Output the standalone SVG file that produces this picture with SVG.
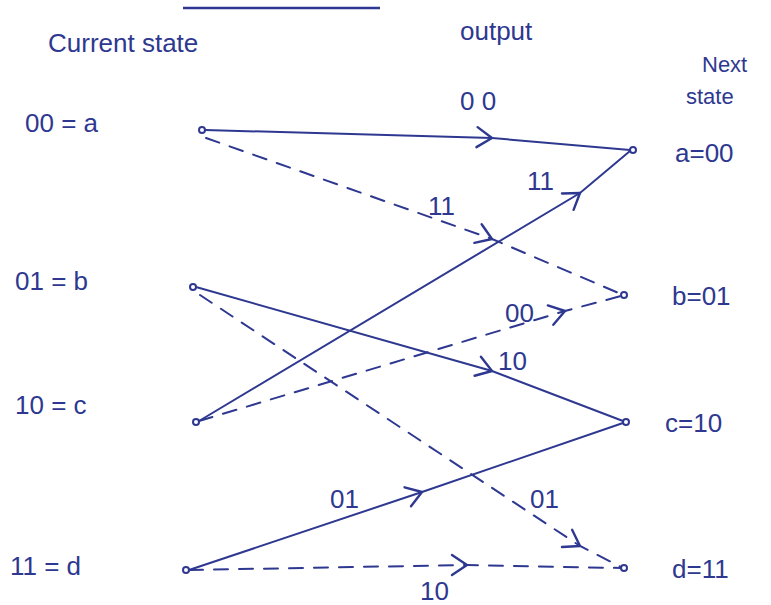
<svg xmlns="http://www.w3.org/2000/svg" width="771" height="605" viewBox="0 0 771 605">
<defs>
<marker id="chev" viewBox="0 0 24 24" refX="18" refY="12" markerWidth="24" markerHeight="24" markerUnits="userSpaceOnUse" orient="auto">
<path d="M3,2 L18,12 L3,22" fill="none" stroke="#2e3890" stroke-width="2.4" stroke-linecap="round" stroke-linejoin="round"/>
</marker>
</defs>
<style>
.t{font-family:"Liberation Sans",Arial,sans-serif;fill:#2e3890;font-size:26px}
.s{font-family:"Liberation Sans",Arial,sans-serif;fill:#2e3890;font-size:22px}
.e{fill:none;stroke:#2e3890;stroke-width:2;stroke-linecap:round;marker-mid:url(#chev)}
.d{stroke-dasharray:14 11}
.n{fill:#fff;stroke:#2e3890;stroke-width:2}
</style>
<rect width="771" height="605" fill="#fff"/>
<line x1="183" y1="8" x2="380" y2="8" stroke="#2e3890" stroke-width="2.5"/>
<text class="t" x="48" y="52">Current state</text>
<text class="t" x="460" y="40">output</text>
<text class="s" x="702" y="72">Next</text>
<text class="s" x="686" y="104">state</text>
<g id="left-a"><text class="t" x="25" y="132">00 = a</text><circle class="n" cx="202" cy="130" r="3"/></g>
<g id="left-b"><text class="t" x="15" y="290">01 = b</text><circle class="n" cx="193" cy="287" r="3"/></g>
<g id="left-c"><text class="t" x="15" y="414">10 = c</text><circle class="n" cx="196" cy="422" r="3"/></g>
<g id="left-d"><text class="t" x="10" y="575">11 = d</text><circle class="n" cx="186" cy="570" r="3"/></g>
<g id="right-a"><text class="t" x="675" y="162">a=00</text><circle class="n" cx="633" cy="150" r="3"/></g>
<g id="right-b"><text class="t" x="672" y="305">b=01</text><circle class="n" cx="624" cy="295" r="3"/></g>
<g id="right-c"><text class="t" x="665" y="432">c=10</text><circle class="n" cx="626" cy="422" r="3"/></g>
<g id="right-d"><text class="t" x="672" y="578">d=11</text><circle class="n" cx="624" cy="568" r="3"/></g>
<g id="connectors">
<polyline class="e" points="205,130 492,138 630,150"/>
<polyline class="e d" points="206,138 492,239 621,294"/>
<polyline class="e" points="196,287 492,371 623,421"/>
<polyline class="e d" points="200,295 580,546 621,567"/>
<polyline class="e" points="199,421 580,193 630,151"/>
<polyline class="e d" points="199,421 565,311 621,296"/>
<polyline class="e" points="189,570 422,492 623,423"/>
<polyline class="e d" points="189,570 467,565 621,568"/>
</g>
<g id="labels">
<text class="t" x="460" y="110">0 0</text>
<text class="t" x="428" y="215">11</text>
<text class="t" x="527" y="190">11</text>
<text class="t" x="505" y="322">00</text>
<text class="t" x="498" y="370">10</text>
<text class="t" x="530" y="508">01</text>
<text class="t" x="330" y="508">01</text>
<text class="t" x="420" y="600">10</text>
</g>
</svg>
